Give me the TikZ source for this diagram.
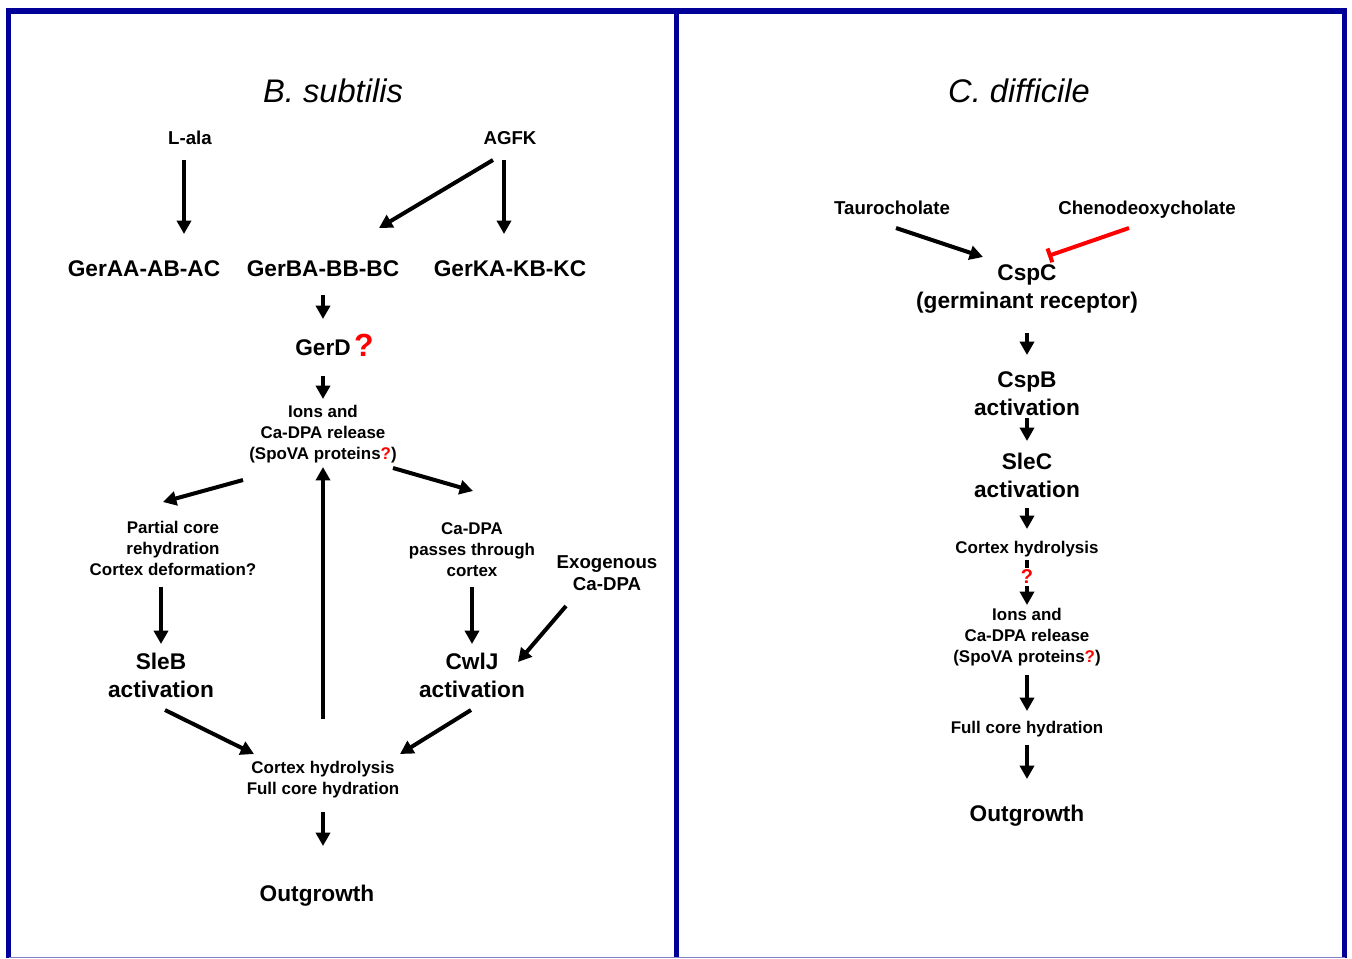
\documentclass[tikz,border=0pt]{standalone}
\usepackage{fontspec}
\setmainfont{Liberation Sans}
\usetikzlibrary{arrows.meta}
\definecolor{frameblue}{RGB}{0,0,153}
\definecolor{qred}{RGB}{255,0,0}
\begin{document}
\begin{tikzpicture}[x=0.75pt,y=-0.75pt,
  arr/.style={line width=3pt,-{Triangle[length=10pt,width=10.5pt]}},
  inh/.style={line width=3pt,draw=qred,-{Bar[width=11pt,line width=3pt]}},
  big/.style={font=\fontsize{17}{21}\selectfont\bfseries,align=center,inner sep=0pt},
  med/.style={font=\fontsize{14}{16.5}\selectfont\bfseries,align=center,inner sep=0pt},
  sm/.style={font=\fontsize{12.7}{15.75}\selectfont\bfseries,align=center,inner sep=0pt},
  ttl/.style={font=\fontsize{24.5}{28}\selectfont\itshape,inner sep=0pt},
  frame/.style={draw=frameblue,line width=4.2pt}]
\useasboundingbox (0,0) rectangle (1352,958);
% frame
\draw[frame] (8.5,958) -- (8.5,11) -- (1344.5,11) -- (1344.5,958);
\draw[frame] (676.5,11) -- (676.5,958);
\draw[draw=frameblue!50,line width=1pt] (8.5,957.5) -- (1344.5,957.5);

% ---------- left panel ----------
\node[ttl] (tB) at (333,91) {B. subtilis};
\node[med] (lala) at (190,138) {L-ala};
\node[med] (agfk) at (510,138) {AGFK};
\node[big] (gerA) at (144,269) {GerAA-AB-AC};
\node[big] (gerB) at (323,269) {GerBA-BB-BC};
\node[big] (gerK) at (510,269) {GerKA-KB-KC};
\node[big] (gerD) at (323,348) {GerD};
\node[font=\fontsize{24}{28}\selectfont\bfseries,text=qred,inner sep=0pt] (gerDq) at (364,345) {?};
\node[sm] (ions) at (323,434) {Ions and\\Ca-DPA release\\(SpoVA proteins\textcolor{qred}{?})};
\node[sm] (partial) at (173,548) {Partial core\\rehydration\\Cortex deformation?};
\node[sm] (passes) at (472,549.5) {Ca-DPA\\passes through\\cortex};
\node[med] (exo) at (607,573) {Exogenous\\Ca-DPA};
\node[big] (sleB) at (161,675) {SleB\\activation};
\node[big] (cwlJ) at (472,675) {CwlJ\\activation};
\node[sm] (cortex) at (323,780) {Cortex hydrolysis\\Full core hydration};
\node[big] (outL) at (317,896) {Outgrowth};

\coordinate (a1s) at (184,160); \coordinate (a1e) at (184,234);
\coordinate (a2s) at (493,160); \coordinate (a2e) at (379,228);
\coordinate (a3s) at (504,160); \coordinate (a3e) at (504,234);
\coordinate (a4s) at (323,295); \coordinate (a4e) at (323,319);
\coordinate (a5s) at (323,376); \coordinate (a5e) at (323,399);
\coordinate (a6s) at (243,480); \coordinate (a6e) at (163,502);
\coordinate (a7s) at (393,468); \coordinate (a7e) at (473,491);
\coordinate (a8s) at (323,719); \coordinate (a8e) at (323,467);
\coordinate (a9s) at (161,587); \coordinate (a9e) at (161,644);
\coordinate (a10s) at (472,587); \coordinate (a10e) at (472,644);
\coordinate (a11s) at (566,606); \coordinate (a11e) at (518,662);
\coordinate (a12s) at (165,710); \coordinate (a12e) at (254,754);
\coordinate (a13s) at (471,710); \coordinate (a13e) at (400,754);
\coordinate (a14s) at (323,812); \coordinate (a14e) at (323,846);
\foreach \i in {1,...,14} \draw[arr] (a\i s) -- (a\i e);

% ---------- right panel ----------
\node[ttl] (tC) at (1019,91) {C. difficile};
\node[med] (tauro) at (892,208) {Taurocholate};
\node[med] (cheno) at (1147,210) {Chenodeoxycholate};
\node[big] (cspC) at (1027,288.5) {CspC\\(germinant receptor)};
\node[big] (cspB) at (1027,394) {CspB\\activation};
\node[big] (sleC) at (1027,475) {SleC\\activation};
\node[sm] (cortR) at (1027,549) {Cortex hydrolysis};
\node[sm] (ionsR) at (1027,637) {Ions and\\Ca-DPA release\\(SpoVA proteins\textcolor{qred}{?})};
\node[sm] (fullR) at (1027,729) {Full core hydration};
\node[big] (outR) at (1027,816) {Outgrowth};

\coordinate (b1s) at (896,228); \coordinate (b1e) at (983,257);
\draw[arr] (b1s) -- (b1e);
\coordinate (b2s) at (1129,228); \coordinate (b2e) at (1048,256);
\draw[inh] (b2s) -- (b2e);
\coordinate (b3s) at (1027,333); \coordinate (b3e) at (1027,355);
\coordinate (b4s) at (1027,418); \coordinate (b4e) at (1027,441);
\coordinate (b5s) at (1027,508); \coordinate (b5e) at (1027,529);
\coordinate (b6s) at (1027,560); \coordinate (b6e) at (1027,605);
\coordinate (b7s) at (1027,675); \coordinate (b7e) at (1027,711);
\coordinate (b8s) at (1027,745); \coordinate (b8e) at (1027,779);
\foreach \i in {3,...,8} \draw[arr] (b\i s) -- (b\i e);
\node[font=\fontsize{15}{17}\selectfont\bfseries,text=qred,fill=white,inner sep=1.5pt] (qR) at (1027,577) {?};
\end{tikzpicture}
\end{document}
